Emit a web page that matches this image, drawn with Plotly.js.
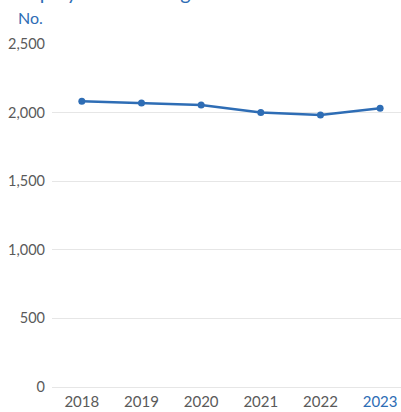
<!DOCTYPE html>
<html><head><meta charset="utf-8">
<script src="https://cdn.plot.ly/plotly-3.0.1.min.js"></script>
<style>html,body{margin:0;padding:0;background:#fff;}#chart{width:401px;height:412px;}</style>
</head><body><div id="chart"></div>
<script>
const years = ["2018","2019","2020","2021","2022","2023"];
const employees = [2082, 2070, 2056, 2000, 1983, 2031];
const yTicks = [0, 500, 1000, 1500, 2000, 2500];
const yTickLabels = ["0", "500", "1,000", "1,500", "2,000", "2,500"];
const highlightYear = "2023";

const blue = "#2e6db5";
const tickText = years.map(y => y === highlightYear ? '<span style="color:' + blue + '">' + y + '</span>' : y);

Plotly.newPlot("chart", [{
  x: years, y: employees, type: "scatter", mode: "lines+markers",
  line: {color: blue, width: 2.5},
  marker: {color: blue, size: 7},
  hoverinfo: "skip"
}], {
  width: 401, height: 412,
  margin: {l: 52, r: 0, t: 44, b: 25},
  paper_bgcolor: "#fff", plot_bgcolor: "#fff",
  font: {family: "Lato, 'Open Sans', sans-serif", color: "#5a5a5a", size: 15},
  showlegend: false,
  xaxis: {
    type: "category", range: [-0.5, 5.35],
    tickmode: "array", tickvals: years, ticktext: tickText,
    showgrid: false, zeroline: false, showline: false, ticks: "",
    ticklabelstandoff: 4,
    tickfont: {size: 15, color: "#5a5a5a"}, fixedrange: true
  },
  yaxis: {
    range: [0, 2500], tickmode: "array", tickvals: yTicks, ticktext: yTickLabels,
    showgrid: true, gridcolor: "#e6e6e6", gridwidth: 1,
    zeroline: true, zerolinecolor: "#e6e6e6", zerolinewidth: 1,
    showline: false, ticks: "", ticklen: 0, ticklabelstandoff: 6,
    tickfont: {size: 14.5, color: "#5a5a5a"}, fixedrange: true
  },
  annotations: [
    {text: "No.", xref: "paper", yref: "paper", x: -0.103, y: 1.0, yshift: 15,
     xanchor: "left", yanchor: "bottom", showarrow: false,
     font: {size: 16, color: blue}},
    {text: "Employees including", xref: "paper", yref: "paper", x: -0.12, y: 1.0, yshift: 38,
     xanchor: "left", yanchor: "bottom", showarrow: false,
     font: {size: 20, color: blue}}
  ]
}, {displayModeBar: false, staticPlot: true});
</script></body></html>
